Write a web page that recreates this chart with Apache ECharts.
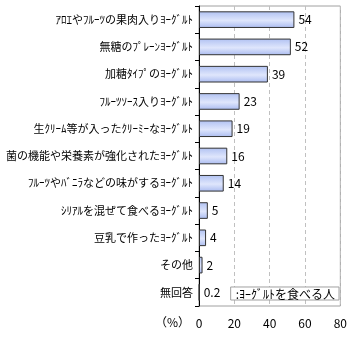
<!DOCTYPE html>
<html>
<head>
<meta charset="utf-8">
<style>
  html, body { margin: 0; padding: 0; background: #fff; }
  #chart { width: 350px; height: 340px; }
</style>
<script src="https://cdn.jsdelivr.net/npm/echarts@6/dist/echarts.min.js"></script>
</head>
<body>
<div id="chart"></div>
<script>
// Categories, top to bottom
const categories = [
  'ｱﾛｴやﾌﾙｰﾂの果肉入りﾖｰｸﾞﾙﾄ',
  '無糖のﾌﾟﾚｰﾝﾖｰｸﾞﾙﾄ',
  '加糖ﾀｲﾌﾟのﾖｰｸﾞﾙﾄ',
  'ﾌﾙｰﾂｿｰｽ入りﾖｰｸﾞﾙﾄ',
  '生ｸﾘｰﾑ等が入ったｸﾘｰﾐｰなﾖｰｸﾞﾙﾄ',
  '菌の機能や栄養素が強化されたﾖｰｸﾞﾙﾄ',
  'ﾌﾙｰﾂやﾊﾞﾆﾗなどの味がするﾖｰｸﾞﾙﾄ',
  'ｼﾘｱﾙを混ぜて食べるﾖｰｸﾞﾙﾄ',
  '豆乳で作ったﾖｰｸﾞﾙﾄ',
  'その他',
  '無回答'
];
// Share of respondents (%)
const values = [54, 52, 39, 23, 19, 16, 14, 5, 4, 2, 0.2];
const seriesName = 'ﾖｰｸﾞﾙﾄを食べる人';
const xTicks = [0, 20, 40, 60, 80];
const unitLabel = '（%）';

const FONT = '"Noto Sans CJK JP", sans-serif';
const chart = echarts.init(document.getElementById('chart'), null, { renderer: 'canvas' });

chart.setOption({
  animation: false,
  backgroundColor: '#ffffff',
  grid: {
    left: 199, right: 9, top: 6, bottom: 34,
    show: true, borderColor: '#a0a0a0', borderWidth: 1
  },
  xAxis: {
    type: 'value',
    min: xTicks[0],
    max: xTicks[xTicks.length - 1],
    interval: 20,
    axisLine: { show: false },
    axisTick: { show: false },
    axisLabel: { color: '#000', fontFamily: FONT, fontSize: 12, margin: 11 },
    splitLine: { show: true, lineStyle: { color: '#c0c0c0', type: [4, 3], width: 1 } }
  },
  yAxis: {
    type: 'category',
    inverse: true,
    data: categories,
    axisLine: { show: true, lineStyle: { color: '#000', width: 1 } },
    axisTick: { show: true, length: 4, lineStyle: { color: '#000' } },
    axisLabel: { color: '#000', fontFamily: FONT, fontSize: 11, margin: 6 }
  },
  legend: {
    show: true,
    right: 11, bottom: 40,
    orient: 'horizontal',
    icon: 'none',
    itemWidth: 0, itemGap: 0,
    formatter: function (name) { return ':' + name; },
    textStyle: { color: '#000', fontFamily: FONT, fontSize: 12, padding: [0, 0, 0, -4] },
    borderColor: '#a0a0a0', borderWidth: 1,
    padding: [0, 4, 0, 4],
    backgroundColor: '#fff',
    data: [seriesName]
  },
  series: [{
    name: seriesName,
    type: 'bar',
    data: values,
    barWidth: '61%',
    itemStyle: {
      borderColor: '#333333', borderWidth: 1,
      color: new echarts.graphic.LinearGradient(0, 0, 0, 1, [
        { offset: 0, color: '#b0c1f2' },
        { offset: 0.55, color: '#dfe6fc' },
        { offset: 1, color: '#aabbf0' }
      ])
    },
    label: {
      show: true, position: 'right', distance: 4,
      color: '#000', fontFamily: FONT, fontSize: 12
    }
  }],
  graphic: [{
    type: 'text',
    left: 155, top: 316,
    style: { text: unitLabel, fill: '#000', font: '12px ' + FONT }
  }]
});
</script>
</body>
</html>
